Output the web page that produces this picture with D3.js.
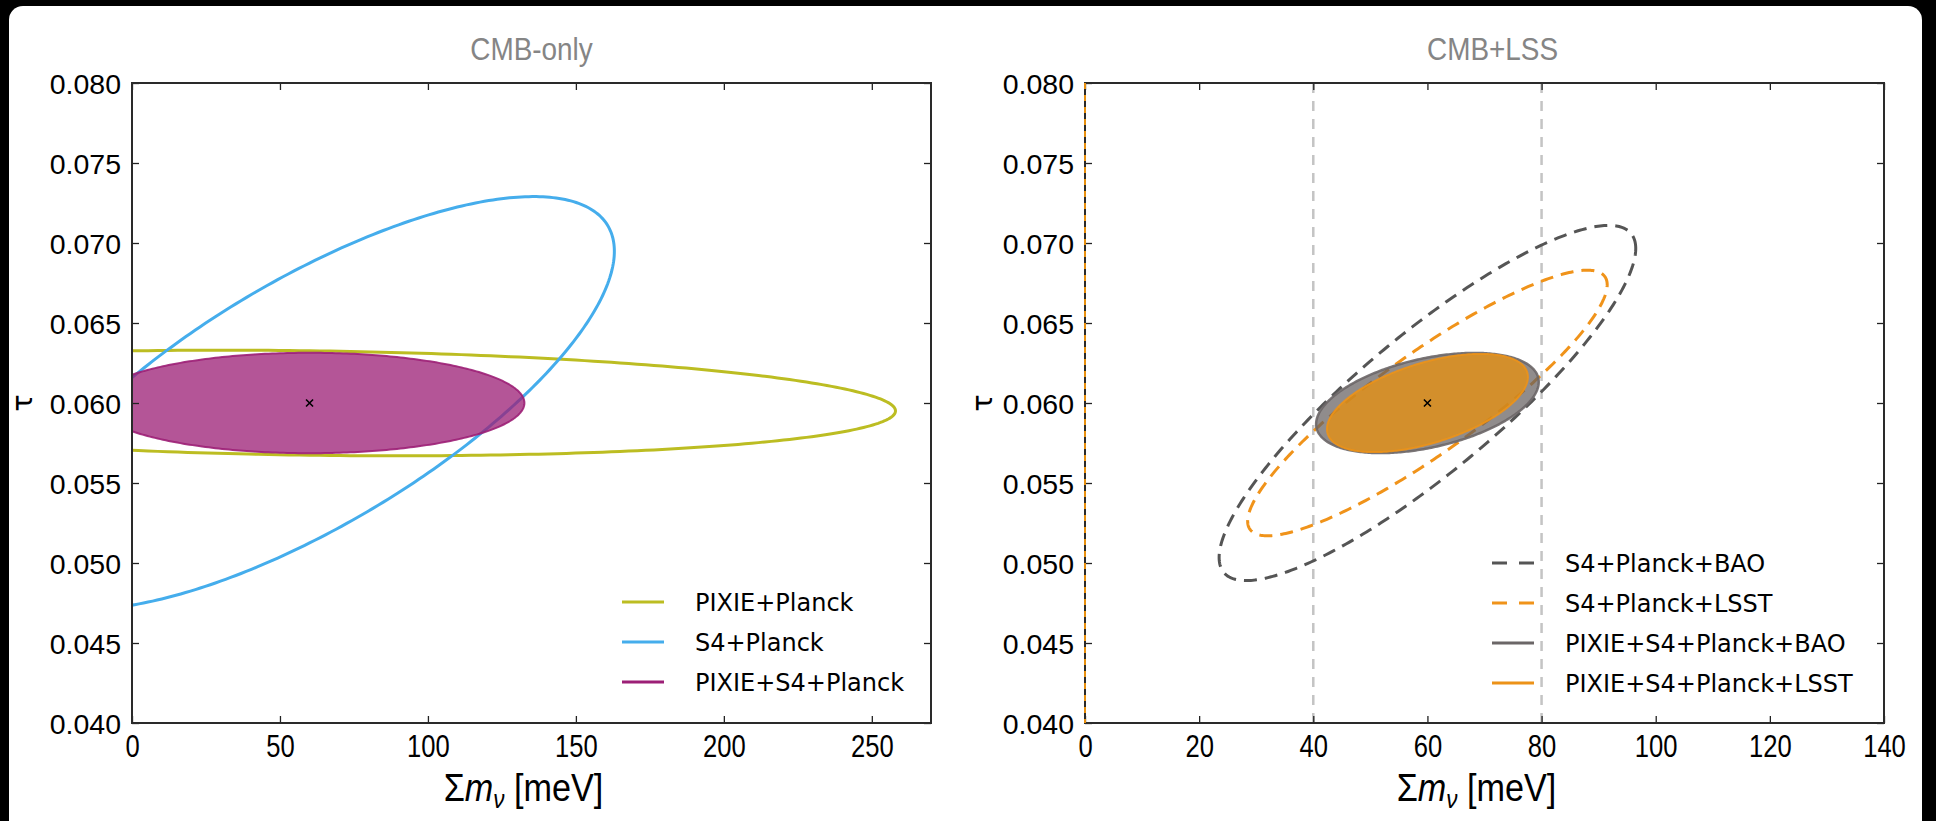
<!DOCTYPE html>
<html><head><meta charset="utf-8">
<script src="https://cdn.jsdelivr.net/npm/d3@7"></script>
<style>body{margin:0;background:#000;} svg{display:block}</style>
</head><body><svg id="chart" width="1936" height="821"></svg>
<script>
// ---------------- DATA ----------------
const panelTitles = ["CMB-only", "CMB+LSS"];
const xDomainLeft = [0, 270];
const xDomainRight = [0, 140];
const yDomain = [0.040, 0.080];
const xTicksLeft = [0, 50, 100, 150, 200, 250];
const xTicksRight = [0, 20, 40, 60, 80, 100, 120, 140];
const yTicks = [0.040, 0.045, 0.050, 0.055, 0.060, 0.065, 0.070, 0.075, 0.080];
const yTickLabels = ["0.040", "0.045", "0.050", "0.055", "0.060", "0.065", "0.070", "0.075", "0.080"];
const fiducialMnu = 60;      // meV
const fiducialTau = 0.060;

// CMB-only forecasts: 1-sigma ellipses (sigma_x [meV], sigma_tau, correlation)
const cmbOnlyNames = ["PIXIE+Planck", "S4+Planck", "PIXIE+S4+Planck"];
const cmbOnlySigmaMnu = [198, 103, 72.6];
const cmbOnlySigmaTau = [0.0033, 0.0129, 0.00314];
const cmbOnlyRho = [-0.15, 0.735, 0.0];

// CMB+LSS forecasts
const lssNames = ["S4+Planck+BAO", "S4+Planck+LSST", "PIXIE+S4+Planck+BAO", "PIXIE+S4+Planck+LSST"];
const lssSigmaMnu = [36.5, 31.5, 19.5, 17.6];
const lssSigmaTau = [0.0111, 0.0083, 0.00313, 0.00307];
const lssRho = [0.87, 0.89, 0.42, 0.53];
const guideLines = [40, 80];   // meV

// ---------------- STYLE ----------------
const cmbOnlyStyle = [
  {stroke: "#bcbd22", fill: "none", width: 3},
  {stroke: "#45adec", fill: "none", width: 3},
  {stroke: "#9c1f76", fill: "#9c1f76", fillOpacity: 0.76, width: 2}
];
const lssStyle = [
  {stroke: "#555555", fill: "none", width: 3, dash: "13,8"},
  {stroke: "#f0931a", fill: "none", width: 3, dash: "13,8"},
  {stroke: "#6b6667", fill: "#655f60", fillOpacity: 0.72, width: 2.5},
  {stroke: "#ec9218", fill: "#e8900f", fillOpacity: 0.76, width: 2}
];

const svg = d3.select("#chart");
svg.append("rect").attr("x", 9).attr("y", 6).attr("width", 1913).attr("height", 840)
  .attr("rx", 14).attr("fill", "#fff");

const plotTop = 83, plotBottom = 723;
const y = d3.scaleLinear().domain(yDomain).range([plotBottom, plotTop]);

function ellipsePoints(cx, cy, sx, sy, rho) {
  const pts = [];
  const n = 360;
  const k = Math.sqrt(1 - rho * rho);
  for (let i = 0; i < n; i++) {
    const t = 2 * Math.PI * i / n;
    pts.push([cx + sx * Math.cos(t), cy + sy * (rho * Math.cos(t) + k * Math.sin(t))]);
  }
  return pts;
}

function drawPanel(opts) {
  const {left, right, xDomain, title, id} = opts;
  const x = d3.scaleLinear().domain(xDomain).range([left, right]);
  const g = svg.append("g");

  g.append("clipPath").attr("id", "clip" + id).append("rect")
    .attr("x", left).attr("y", plotTop).attr("width", right - left).attr("height", plotBottom - plotTop);

  const plot = g.append("g").attr("clip-path", `url(#clip${id})`);
  opts.x = x;
  opts.plot = plot;
  opts.g = g;

  const cx = (left + right) / 2 + opts.titleShift;
  g.append("text").attr("transform", `translate(${cx},60) scale(0.9,1)`)
    .attr("text-anchor", "middle").attr("fill", "#858585")
    .style("font-family", "'Liberation Sans', Arial, sans-serif").style("font-size", "31px")
    .text(title);
  return opts;
}

function drawAxes(p) {
  const {x, g, xTicks, left, right} = p;
  const tickLen = 7;
  const axB = d3.axisBottom(x).tickValues(xTicks).tickSize(-tickLen).tickPadding(11)
    .tickFormat(d3.format("d"));
  const gb = g.append("g").attr("transform", `translate(0,${plotBottom})`).call(axB);
  const axT = d3.axisTop(x).tickValues(xTicks).tickSize(-tickLen).tickFormat("");
  const gt = g.append("g").attr("transform", `translate(0,${plotTop})`).call(axT);
  const axL = d3.axisLeft(y).tickValues(yTicks).tickSize(-tickLen).tickPadding(11)
    .tickFormat((d, i) => yTickLabels[i]);
  const gl = g.append("g").attr("transform", `translate(${left},0)`).call(axL);
  const axR = d3.axisRight(y).tickValues(yTicks).tickSize(-tickLen).tickFormat("");
  const gr = g.append("g").attr("transform", `translate(${right},0)`).call(axR);

  [gb, gt, gl, gr].forEach(a => {
    a.select(".domain").remove();
    a.selectAll(".tick line").attr("stroke", "#222").attr("stroke-width", 1.3);
  });
  gb.selectAll(".tick text").attr("fill", "#000")
    .style("font-family", "'Liberation Sans', Arial, sans-serif")
    .style("font-size", "32px").attr("dy", "0.71em")
    .attr("transform", function () { return `translate(0,${this.getAttribute("y")}) scale(0.8,1) translate(0,${-this.getAttribute("y")})`; });
  gl.selectAll(".tick text").attr("fill", "#000")
    .style("font-family", "'Liberation Sans', Arial, sans-serif").style("font-size", "28.5px")
    .attr("dy", "0.36em");
  g.append("rect").attr("x", left).attr("y", plotTop).attr("width", right - left).attr("height", plotBottom - plotTop)
    .attr("fill", "none").attr("stroke", "#2a2a2a").attr("stroke-width", 2);

  const xl = g.append("text").attr("transform", `translate(${(left + right) / 2 - 8},801) scale(0.9,1)`)
    .attr("text-anchor", "middle").attr("fill", "#000")
    .style("font-family", "'Liberation Sans', Arial, sans-serif")
    .style("font-size", "38px");
  xl.append("tspan").text("Σ");
  xl.append("tspan").style("font-style", "italic").text("m");
  xl.append("tspan").style("font-style", "italic").style("font-size", "25px").attr("dy", 7).text("ν");
  xl.append("tspan").attr("dy", -7).text(" [meV]");

  g.append("text").attr("transform", `translate(${left - p.yLabelOffset},${y(0.060)}) rotate(-90)`)
    .attr("text-anchor", "middle").attr("dy", "0.35em").attr("fill", "#000")
    .style("font-family", "'DejaVu Sans', sans-serif").style("font-size", "29px")
    .text("τ");
}

function drawMarker(p) {
  const cx = p.x(fiducialMnu), cy = y(fiducialTau), s = 3.5;
  p.g.append("path").attr("d", `M${cx - s},${cy - s}L${cx + s},${cy + s}M${cx - s},${cy + s}L${cx + s},${cy - s}`)
    .attr("stroke", "#000").attr("stroke-width", 1.6);
}

function drawEllipses(p, sxArr, syArr, rhoArr, styles) {
  const line = d3.line().x(d => p.x(d[0])).y(d => y(d[1])).curve(d3.curveLinearClosed);
  sxArr.forEach((sx, i) => {
    const st = styles[i];
    const pts = ellipsePoints(fiducialMnu, fiducialTau, sx, syArr[i], rhoArr[i]);
    if (st.fill !== "none") {
      p.plot.append("path").attr("d", line(pts)).attr("fill", st.fill)
        .attr("fill-opacity", st.fillOpacity).attr("stroke", "none");
    }
    p.plot.append("path").attr("d", line(pts)).attr("fill", "none")
      .attr("stroke", st.stroke).attr("stroke-width", st.width)
      .attr("stroke-dasharray", st.dash || null)
      .attr("stroke-opacity", st.fill !== "none" ? 0.9 : 1);
  });
}

function drawLegend(names, styles, lineX0, lineX1, textX, rowY) {
  const lg = svg.append("g");
  names.forEach((n, i) => {
    const st = styles[i];
    lg.append("line").attr("x1", lineX0).attr("x2", lineX1).attr("y1", rowY[i]).attr("y2", rowY[i])
      .attr("stroke", st.stroke).attr("stroke-width", 3.2)
      .attr("stroke-dasharray", st.dash ? "15,12" : null);
    lg.append("text").attr("x", textX).attr("y", rowY[i]).attr("dy", "0.36em").attr("fill", "#000")
      .style("font-family", "'DejaVu Sans', sans-serif").style("font-size", "24px").text(n);
  });
}

// ---------- left panel ----------
const pL = drawPanel({left: 132, right: 931, xDomain: xDomainLeft, xTicks: xTicksLeft, title: panelTitles[0], id: "L", titleShift: 0, yLabelOffset: 110});
drawEllipses(pL, cmbOnlySigmaMnu, cmbOnlySigmaTau, cmbOnlyRho, cmbOnlyStyle);
drawAxes(pL);
drawMarker(pL);
drawLegend(cmbOnlyNames, cmbOnlyStyle, 622, 664, 695, [602, 642, 682]);

// ---------- right panel ----------
const pR = drawPanel({left: 1085, right: 1884, xDomain: xDomainRight, xTicks: xTicksRight, title: panelTitles[1], id: "R", titleShift: 8, yLabelOffset: 103});
pR.plot.selectAll(".guide").data(guideLines).enter().append("line")
  .attr("x1", d => pR.x(d)).attr("x2", d => pR.x(d)).attr("y1", plotTop).attr("y2", plotBottom)
  .attr("stroke", "#c4c4c4").attr("stroke-width", 2.5).attr("stroke-dasharray", "10,8");
drawEllipses(pR, lssSigmaMnu, lssSigmaTau, lssRho, lssStyle);
drawAxes(pR);
pR.g.append("line").attr("x1", pR.x(0)).attr("x2", pR.x(0)).attr("y1", plotTop).attr("y2", plotBottom)
  .attr("stroke", "#e8900f").attr("stroke-width", 2).attr("stroke-dasharray", "6,6");
drawMarker(pR);
drawLegend(lssNames, lssStyle, 1492, 1534, 1565, [563, 603, 643, 683]);
</script></body></html>
